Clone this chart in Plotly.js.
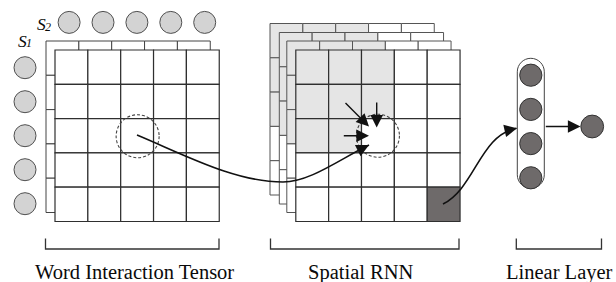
<!DOCTYPE html>
<html><head><meta charset="utf-8">
<script src="https://cdn.plot.ly/plotly-3.0.1.min.js"></script>
<style>html,body{margin:0;padding:0;background:#fff}</style>
</head><body><div id="chart" style="width:616px;height:282px"></div>
<script>
// ---- diagram content ----
const panelLabels = ['Word Interaction Tensor', 'Spatial RNN', 'Linear Layer'];
const seqNames = ['S', 'S'];
const seqSubs = ['1', '2'];
const gridRows = 5;
const gridCols = 5;
const s1Nodes = 5;
const s2Nodes = 5;
const linearNodes = 4;
const tensorBackLayers = 1;
const rnnBackLayers = 3;
const visitedCells = [[0,0],[0,1],[0,2],[1,0],[1,1],[1,2],[2,0],[2,1]];
const currentCell = [2, 2];
const outputCell = [4, 4];

// ---- geometry / style ----
const CW = 32.85, CH = 34.3;
const G1 = {x: 55, y: 50};
const G2 = {x: 295.8, y: 50};
const tensorOffsets = [[9, 9]];
const rnnOffsets = [[25.8, 26.5], [16.5, 17.5], [9, 9]];
const LINE = '#2f2f2f';
const SHADE = '#e5e5e5';
const DARK = '#6e6a6a';
const LIGHT = '#d3d3d3';
const SERIF = 'Liberation Serif';

const shapes = [];
const annotations = [];

function isVisited(r, c) { return visitedCells.some(v => v[0] === r && v[1] === c); }

function grid(x0, y0, fillFn, lw, lc) {
  for (let r = 0; r < gridRows; r++) {
    for (let c = 0; c < gridCols; c++) {
      shapes.push({type: 'rect', xref: 'x', yref: 'y',
        x0: x0 + c * CW, x1: x0 + (c + 1) * CW, y0: y0 + r * CH, y1: y0 + (r + 1) * CH,
        fillcolor: fillFn(r, c), line: {color: lc, width: lw}});
    }
  }
}
function circle(cx, cy, rad, fill, lc, lw, dash) {
  shapes.push({type: 'circle', xref: 'x', yref: 'y', x0: cx - rad, x1: cx + rad, y0: cy - rad, y1: cy + rad,
    fillcolor: fill, line: {color: lc, width: lw, dash: dash || 'solid'}});
}
function arrow(tx, ty, hx, hy, size) {
  annotations.push({x: hx, y: hy, ax: tx, ay: ty, xref: 'x', yref: 'y', axref: 'x', ayref: 'y',
    text: '', showarrow: true, arrowhead: 2, arrowsize: size || 1.8, arrowwidth: 1.4, arrowcolor: '#111', standoff: 0});
}
function label(txt, x, y, size, italic, anchor) {
  annotations.push({x: x, y: y, xref: 'x', yref: 'y', text: italic ? '<i>' + txt + '</i>' : txt, showarrow: false,
    xanchor: anchor || 'center', yanchor: 'middle',
    font: {family: SERIF, size: size, color: '#0a0a0a'}});
}

// Word interaction tensor
for (let i = 0; i < tensorBackLayers; i++) {
  grid(G1.x - tensorOffsets[i][0], G1.y - tensorOffsets[i][1], () => '#ffffff', 1, '#444');
}
grid(G1.x, G1.y, () => '#ffffff', 1.2, LINE);

// Spatial RNN
const rnnFill = (r, c) => isVisited(r, c) ? SHADE : '#ffffff';
for (let i = 0; i < rnnBackLayers; i++) {
  grid(G2.x - rnnOffsets[i][0], G2.y - rnnOffsets[i][1], rnnFill, 1, '#555');
}
grid(G2.x, G2.y, (r, c) => (r === outputCell[0] && c === outputCell[1]) ? DARK : rnnFill(r, c), 1.2, LINE);

// sequence nodes
for (let i = 0; i < s1Nodes; i++) circle(25, 67.7 + i * 34, 11, LIGHT, '#505050', 1);
for (let j = 0; j < s2Nodes; j++) circle(69.1 + j * 33.9, 22.4, 11, LIGHT, '#505050', 1);

// dashed current-cell circles
const cc1 = [G1.x + (currentCell[1] + 0.5) * CW, G1.y + (currentCell[0] + 0.5) * CH];
const cc2 = [G2.x + (currentCell[1] + 0.5) * CW, G2.y + (currentCell[0] + 0.5) * CH];
circle(cc1[0] + 0.5, cc1[1] + 0.5, 21.5, 'rgba(0,0,0,0)', '#444', 1.1, '3px,2px');
circle(cc2[0], cc2[1], 21.5, 'rgba(0,0,0,0)', '#444', 1.1, '3px,2px');

// curve tensor -> RNN
shapes.push({type: 'path', xref: 'x', yref: 'y',
  path: 'M137,135 C185,155 235,182 283,182 C310,182 340,159 369,145',
  line: {color: '#111', width: 1.6}});
arrow(361, 149, 369, 145);

// RNN dependency arrows
arrow(344, 101.5, 369, 126.5);
arrow(376.7, 101, 376.7, 127.5);
arrow(342.3, 135.7, 369, 135.7);

// curve RNN -> linear
shapes.push({type: 'path', xref: 'x', yref: 'y',
  path: 'M443,204 C475,188 480,135 516.5,128.3',
  line: {color: '#111', width: 1.6}});
arrow(509, 130, 517, 128.2);

// linear layer capsule
(function () {
  const x0 = 517.3, x1 = 544.3, y0 = 58.3, y1 = 188.3, r = 13.5, k = 0.5523 * r, cx = (x0 + x1) / 2;
  const p = `M${x0},${y0 + r} C${x0},${y0 + r - k} ${cx - k},${y0} ${cx},${y0} C${cx + k},${y0} ${x1},${y0 + r - k} ${x1},${y0 + r}` +
    ` L${x1},${y1 - r} C${x1},${y1 - r + k} ${cx + k},${y1} ${cx},${y1} C${cx - k},${y1} ${x0},${y1 - r + k} ${x0},${y1 - r} Z`;
  shapes.push({type: 'path', xref: 'x', yref: 'y', path: p, fillcolor: '#ffffff', line: {color: '#444', width: 1}});
})();
for (let i = 0; i < linearNodes; i++) circle(530.8, 75.2 + i * 34.2, 11.1, DARK, '#333', 1);

// output
arrow(544.3, 126.5, 580.5, 126.5);
circle(592.2, 126.5, 11.4, DARK, '#333', 1);

// brackets
const brackets = [[45.5, 219], [270.5, 459], [516.3, 601.5]];
brackets.forEach(b => {
  shapes.push({type: 'path', xref: 'x', yref: 'y',
    path: `M${b[0]},238.5 L${b[0]},249 L${b[1]},249 L${b[1]},238.5`,
    line: {color: '#333', width: 1.3}});
});
const labelX = [134.7, 360.8, 559.2];
panelLabels.forEach((t, i) => label(t, labelX[i], 272, 20.5, false));

// sequence labels
label(seqNames[1], 34.5, 24.2, 17.5, true, 'left');
label(seqSubs[1], 42.5, 26.5, 12, true, 'left');
label(seqNames[0], 16, 40.5, 17.5, true, 'left');
label(seqSubs[0], 24, 42.8, 12, true, 'left');

Plotly.newPlot('chart', [{x: [], y: [], type: 'scatter', mode: 'markers', hoverinfo: 'skip'}], {
  width: 616, height: 282,
  margin: {l: 0, r: 0, t: 0, b: 0, pad: 0},
  paper_bgcolor: '#ffffff', plot_bgcolor: '#ffffff',
  showlegend: false,
  font: {family: SERIF},
  xaxis: {range: [0, 616], visible: false, fixedrange: true},
  yaxis: {range: [282, 0], visible: false, fixedrange: true},
  shapes: shapes,
  annotations: annotations
}, {staticPlot: true, displayModeBar: false});
</script>
</body></html>
